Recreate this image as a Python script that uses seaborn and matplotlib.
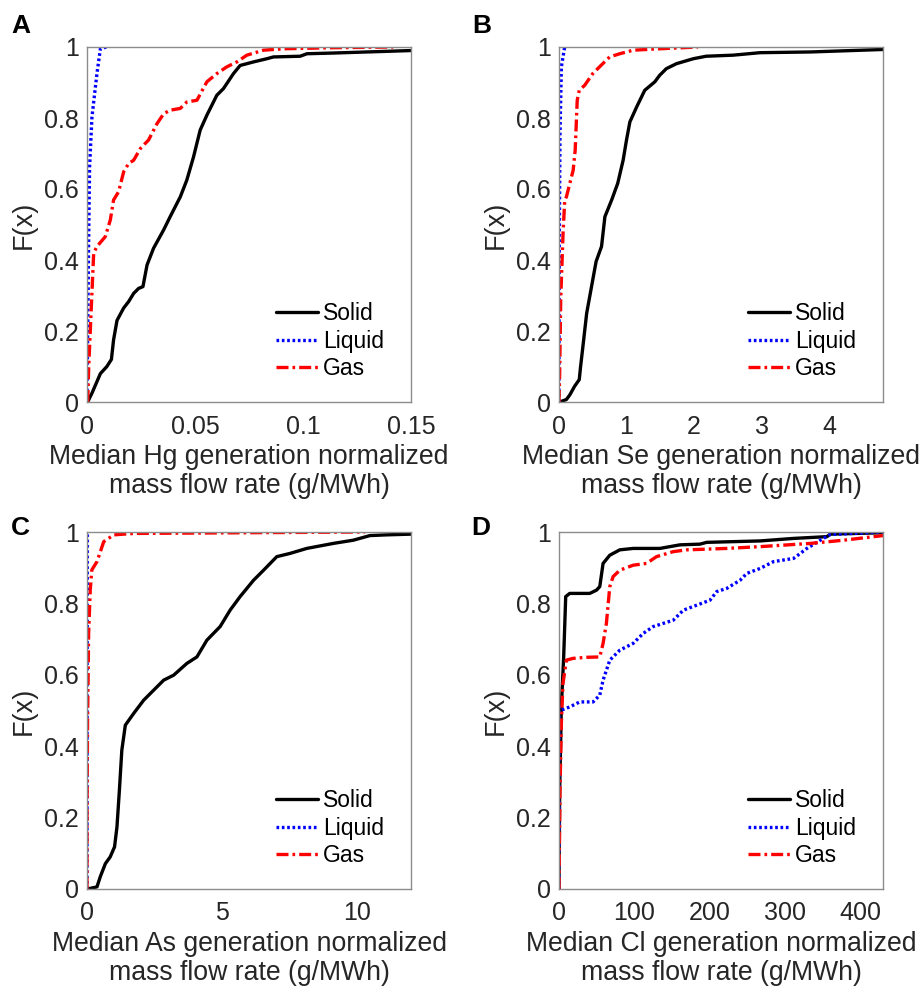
import numpy as np
import pandas as pd
import matplotlib
matplotlib.use("Agg")
import matplotlib.pyplot as plt
import seaborn as sns

# ---------------- data ----------------
# Panel A: Hg
hg_solid_x = [0.0003, 0.0023, 0.0062, 0.0092, 0.0113, 0.0123, 0.0139, 0.017, 0.0193, 0.0216, 0.0239, 0.0259,
              0.0278, 0.0308, 0.0355, 0.0385, 0.0432, 0.0462, 0.0493, 0.0524, 0.0555, 0.0601, 0.0632, 0.0678,
              0.0709, 0.0771, 0.0833, 0.0863, 0.0987, 0.1018, 0.114, 0.1295, 0.15]
hg_solid_f = [0.0, 0.025, 0.08, 0.10, 0.12, 0.175, 0.23, 0.265, 0.283, 0.306, 0.32, 0.325,
              0.386, 0.433, 0.485, 0.522, 0.578, 0.625, 0.69, 0.766, 0.808, 0.864, 0.883, 0.925,
              0.948, 0.958, 0.967, 0.972, 0.974, 0.981, 0.983, 0.986, 0.99]
hg_liquid_x = [0.0, 0.0003, 0.0008, 0.0012, 0.0023, 0.0046, 0.0062, 0.009]
hg_liquid_f = [0.0, 0.19, 0.475, 0.663, 0.803, 0.925, 0.995, 1.0]
hg_gas_x = [0.0003, 0.0008, 0.0018, 0.0031, 0.0046, 0.0085, 0.0108, 0.0123, 0.0146, 0.017, 0.0193, 0.0216,
            0.0247, 0.0285, 0.0324, 0.0355, 0.0385, 0.0432, 0.0462, 0.0509, 0.0555, 0.0601, 0.0647, 0.0694,
            0.074, 0.0817, 0.091, 0.114, 0.1418]
hg_gas_f = [0.0, 0.1, 0.24, 0.42, 0.438, 0.466, 0.513, 0.569, 0.592, 0.649, 0.672, 0.681,
            0.714, 0.738, 0.784, 0.812, 0.822, 0.827, 0.845, 0.85, 0.902, 0.925, 0.944, 0.958,
            0.977, 0.991, 0.995, 0.998, 1.0]

# Panel B: Se
se_solid_x = [0.01, 0.11, 0.16, 0.23, 0.30, 0.32, 0.36, 0.41, 0.50, 0.55, 0.63, 0.68, 0.78, 0.87, 0.95,
              1.0, 1.05, 1.15, 1.27, 1.42, 1.49, 1.59, 1.74, 1.99, 2.18, 2.58, 2.98, 3.72, 4.8]
se_solid_f = [0.0, 0.007, 0.02, 0.044, 0.063, 0.1, 0.166, 0.25, 0.344, 0.396, 0.438, 0.522, 0.569, 0.616,
              0.681, 0.738, 0.789, 0.831, 0.878, 0.902, 0.92, 0.939, 0.953, 0.967, 0.974, 0.977, 0.984,
              0.986, 0.993]
se_liquid_x = [0.0, 0.0, 0.005, 0.015, 0.035, 0.084]
se_liquid_f = [0.0, 0.1, 0.475, 0.756, 0.944, 1.0]
se_gas_x = [0.0, 0.01, 0.025, 0.06, 0.085, 0.11, 0.21, 0.24, 0.27, 0.30, 0.38, 0.50, 0.60, 0.75, 0.90,
            1.10, 1.49, 2.06]
se_gas_f = [0.0, 0.08, 0.288, 0.475, 0.569, 0.578, 0.653, 0.71, 0.85, 0.878, 0.892, 0.925, 0.944, 0.972,
            0.981, 0.991, 0.995, 1.0]

# Panel C: As
as_solid_x = [0.02, 0.37, 0.49, 0.68, 0.86, 1.02, 1.11, 1.20, 1.29, 1.42, 1.73, 2.10, 2.47, 2.84, 3.21,
              3.70, 4.07, 4.44, 4.93, 5.30, 5.67, 6.17, 6.54, 7.03, 7.52, 8.14, 9.12, 9.86, 10.48, 11.1, 12.0]
as_solid_f = [0.0, 0.006, 0.034, 0.071, 0.09, 0.118, 0.174, 0.277, 0.389, 0.459, 0.492, 0.529, 0.557,
              0.585, 0.599, 0.632, 0.65, 0.697, 0.735, 0.781, 0.819, 0.865, 0.893, 0.931, 0.94, 0.954,
              0.968, 0.977, 0.99, 0.992, 0.994]
as_liquid_x = [0.0, 0.005, 0.015]
as_liquid_f = [0.0, 0.557, 1.0]
as_gas_x = [0.0, 0.0, 0.02, 0.06, 0.12, 0.18, 0.37, 0.62, 0.99, 1.73, 10.3]
as_gas_f = [0.0, 0.183, 0.464, 0.716, 0.838, 0.894, 0.917, 0.973, 0.992, 0.996, 1.0]

# Panel D: Cl
cl_solid_x = [0.0, 0.9, 3.1, 6.2, 8.9, 14.2, 40.8, 49.7, 54.1, 58.5, 67.4, 80.7, 98.4, 133.9, 160.5,
              187.1, 196.0, 267.0, 311.0, 355.7, 360.0, 430.0]
cl_solid_f = [0.0, 0.277, 0.51, 0.65, 0.819, 0.828, 0.828, 0.837, 0.847, 0.912, 0.935, 0.95, 0.954,
              0.954, 0.964, 0.966, 0.971, 0.975, 0.982, 0.987, 0.994, 0.998]
cl_liquid_x = [0.0, 0.0, 0.0, 3.1, 14.2, 27.5, 45.2, 54.1, 58.5, 67.4, 80.7, 98.4, 111.8, 125.0, 151.7,
               165.0, 182.7, 200.4, 209.3, 222.6, 240.4, 249.2, 267.0, 284.7, 311.3, 329.0, 346.8, 360.0,
               430.0]
cl_liquid_f = [0.0, 0.277, 0.51, 0.501, 0.51, 0.524, 0.524, 0.543, 0.585, 0.641, 0.669, 0.688, 0.716,
               0.735, 0.753, 0.781, 0.795, 0.809, 0.833, 0.842, 0.865, 0.884, 0.898, 0.917, 0.926, 0.954,
               0.977, 0.993, 1.0]
cl_gas_x = [0.0, 1.3, 3.1, 5.3, 9.8, 18.6, 36.4, 54.1, 58.5, 62.9, 67.4, 71.8, 80.7, 98.4, 116.1, 129.4,
            151.7, 169.4, 222.6, 267.0, 333.5, 377.8, 430.0]
cl_gas_f = [0.0, 0.277, 0.464, 0.576, 0.641, 0.646, 0.649, 0.65, 0.688, 0.744, 0.847, 0.875, 0.893,
            0.907, 0.912, 0.931, 0.945, 0.95, 0.954, 0.959, 0.968, 0.977, 0.99]

series_names = ["Solid", "Liquid", "Gas"]
panel_letters = ["A", "B", "C", "D"]
elements = ["Hg", "Se", "As", "Cl"]
x_limits = [(0, 0.15), (0, 4.8), (0, 12), (0, 430)]
x_ticks = [[0, 0.05, 0.1, 0.15], [0, 1, 2, 3, 4], [0, 5, 10], [0, 100, 200, 300, 400]]
x_ticklabels = [["0", "0.05", "0.1", "0.15"], ["0", "1", "2", "3", "4"], ["0", "5", "10"],
                ["0", "100", "200", "300", "400"]]
y_ticks = [0, 0.2, 0.4, 0.6, 0.8, 1.0]
y_ticklabels = ["0", "0.2", "0.4", "0.6", "0.8", "1"]

panels = [
    [(hg_solid_x, hg_solid_f), (hg_liquid_x, hg_liquid_f), (hg_gas_x, hg_gas_f)],
    [(se_solid_x, se_solid_f), (se_liquid_x, se_liquid_f), (se_gas_x, se_gas_f)],
    [(as_solid_x, as_solid_f), (as_liquid_x, as_liquid_f), (as_gas_x, as_gas_f)],
    [(cl_solid_x, cl_solid_f), (cl_liquid_x, cl_liquid_f), (cl_gas_x, cl_gas_f)],
]

# ---------------- style ----------------
sns.set_theme(style="white")
plt.rcParams["font.family"] = ["Liberation Sans", "DejaVu Sans"]
plt.rcParams["text.color"] = "#262626"
plt.rcParams["axes.labelcolor"] = "#262626"
plt.rcParams["xtick.color"] = "#262626"
plt.rcParams["ytick.color"] = "#262626"

colors = ["black", "#0000ff", "#ff0000"]
styles = ["-", (0, (0.8, 0.8)), (0, (3.6, 1.2, 0.8, 1.2))]

W, H = 923, 989
fig = plt.figure(figsize=(W / 100, H / 100), dpi=100)

ax_rects_px = [(87, 47, 411, 402), (559, 47, 883, 402), (87, 532, 411, 889), (559, 532, 883, 889)]
letter_pos_px = [(11, 33), (472, 33), (11, 535), (471, 535)]

for i, (l, t, r, b) in enumerate(ax_rects_px):
    ax = fig.add_axes([l / W, 1 - b / H, (r - l) / W, (b - t) / H])
    for j, (xs, fs) in enumerate(panels[i]):
        df = pd.DataFrame({"x": xs, "F": fs})
        sns.lineplot(data=df, x="x", y="F", ax=ax, sort=False, estimator=None,
                     color=colors[j], linestyle=styles[j], linewidth=2.4, label=series_names[j])
    ax.set_xlim(*x_limits[i])
    ax.set_ylim(0, 1)
    ax.set_xticks(x_ticks[i])
    ax.set_xticklabels(x_ticklabels[i])
    ax.set_yticks(y_ticks)
    ax.set_yticklabels(y_ticklabels)
    ax.tick_params(direction="in", length=4, width=0.8, labelsize=18, colors="#262626",
                   color="#8c8c8c", pad=6)
    ax.tick_params(axis="x", pad=9)
    for sp in ax.spines.values():
        sp.set_color("#8c8c8c")
        sp.set_linewidth(1.0)
    ax.set_ylabel("F(x)", fontsize=19.5, labelpad=5)
    ax.set_xlabel(f"Median {elements[i]} generation normalized\nmass flow rate (g/MWh)",
                  fontsize=19.2, labelpad=4, linespacing=1.15)
    leg = ax.legend(loc="lower right", bbox_to_anchor=(0.945, 0.035), frameon=False, fontsize=16.5,
                    handlelength=1.85, handletextpad=0.2, labelspacing=0.2, borderaxespad=0)
    for txt in leg.get_texts():
        txt.set_color("black")
    lx, ly = letter_pos_px[i]
    fig.text(lx / W, 1 - ly / H, panel_letters[i], fontsize=19, fontweight="bold",
             color="black", ha="left", va="baseline")

fig.savefig("out.png", dpi=100)
